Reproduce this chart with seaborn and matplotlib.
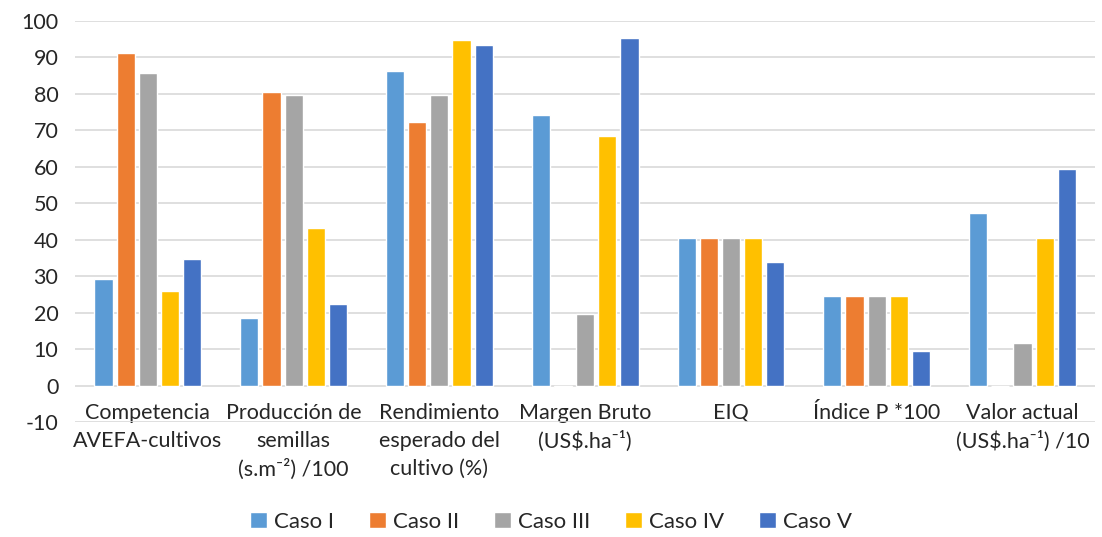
import pandas as pd
import matplotlib.pyplot as plt
import seaborn as sns

# Datos
categorias = [
    "Competencia\nAVEFA-cultivos",
    "Producción de\nsemillas\n(s.m⁻²) /100",
    "Rendimiento\nesperado del\ncultivo (%)",
    "Margen Bruto\n(US$.ha⁻¹)",
    "EIQ",
    "Índice P *100",
    "Valor actual\n(US$.ha⁻¹) /10",
]
casos = ["Caso I", "Caso II", "Caso III", "Caso IV", "Caso V"]
caso_1 = [29.3, 18.6, 86.3, 74.1, 40.5, 24.7, 47.4]
caso_2 = [91.2, 80.5, 72.3, -0.5, 40.5, 24.7, 0.0]
caso_3 = [85.8, 79.8, 79.8, 19.7, 40.5, 24.7, 11.6]
caso_4 = [26.0, 43.3, 94.8, 68.4, 40.5, 24.7, 40.5]
caso_5 = [34.8, 22.5, 93.4, 95.4, 34.0, 9.6, 59.3]
colores = ["#5B9BD5", "#ED7D31", "#A5A5A5", "#FFC000", "#4472C4"]

valores = [caso_1, caso_2, caso_3, caso_4, caso_5]
df = pd.DataFrame(
    [(cat, caso, v) for caso, serie in zip(casos, valores) for cat, v in zip(categorias, serie)],
    columns=["categoria", "caso", "valor"],
)

sns.set_style("white")
plt.rcParams["font.family"] = ["Lato", "DejaVu Sans"]
plt.rcParams["axes.unicode_minus"] = False

fig = plt.figure(figsize=(11.02, 5.37), dpi=100)
ax = fig.add_axes([0.068, 0.214, 0.926, 0.747])

sns.barplot(data=df, x="categoria", y="valor", hue="caso", palette=colores,
            width=0.76, gap=0.18, ax=ax, saturation=1, errorbar=None)

ax.set_ylim(-10, 100)
ax.set_yticks(range(-10, 101, 10))
ax.yaxis.grid(True, color="#D9D9D9", linewidth=1.2)
ax.set_axisbelow(True)
for s in ax.spines.values():
    s.set_visible(False)
ax.set_xlabel("")
ax.set_ylabel("")
ax.tick_params(axis="y", labelsize=15.5, length=0, pad=12)
ax.tick_params(axis="x", labelsize=15.5, length=0, pad=-14)
for t in ax.get_xticklabels():
    t.set_linespacing(1.5)

sns.move_legend(ax, "center", bbox_to_anchor=(0.5, 0.028), bbox_transform=fig.transFigure,
                ncol=5, frameon=False, title=None, fontsize=16, handlelength=0.75,
                handleheight=0.75, handletextpad=0.3, columnspacing=1.6)

fig.savefig("out.png", dpi=100)
